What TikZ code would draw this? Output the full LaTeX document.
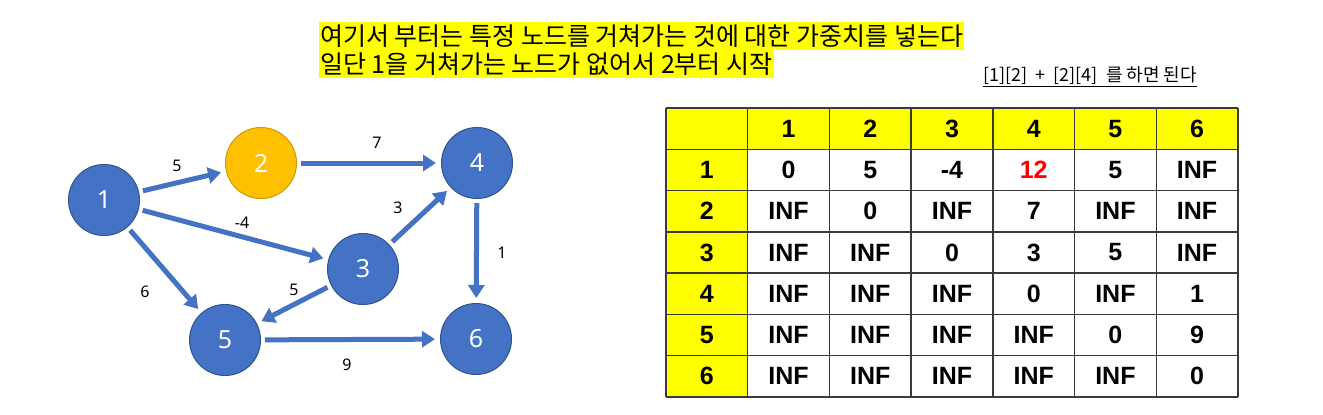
\documentclass[tikz,border=0pt]{standalone}
\usepackage{fontspec}
\setmainfont{Noto Sans}
\newfontfamily\krfont{Noto Sans CJK KR}
\newfontfamily\tblfont{Liberation Sans}
\usetikzlibrary{arrows.meta}
\definecolor{nodeblue}{HTML}{4472C4}
\definecolor{nodeline}{HTML}{2F528F}
\definecolor{nodeorange}{HTML}{FFC000}
\definecolor{hlyellow}{HTML}{FFFF00}
\definecolor{gridgray}{HTML}{3A3A3A}

\begin{document}
\begin{tikzpicture}[
  x=1pt, y=-1pt,
  vertex/.style={circle, fill=nodeblue, draw=nodeline, line width=1pt,
    minimum size=71pt, inner sep=0pt, text=white,
    font=\fontsize{25}{25}\selectfont},
  arr/.style={-{Triangle[length=13pt,width=16pt]}, line width=5pt,
    nodeblue, shorten <=4pt, shorten >=5pt},
  wlabel/.style={font=\fontsize{16}{16}\selectfont},
  note/.style={fill=hlyellow, inner xsep=1pt, inner ysep=0pt,
    minimum height=28pt, anchor=west,
    font=\krfont\fontsize{25}{28}\selectfont},
  cell/.style={font=\tblfont\bfseries\fontsize{25}{25}\selectfont, inner sep=0pt},
  tblline/.style={draw=gridgray, line width=1.5pt}
]
  \useasboundingbox[fill=white] (0,0) rectangle (1323,415);

  % Heading
  \node[note] (line1) at (319,36) {여기서 부터는 특정 노드를 거쳐가는 것에 대한 가중치를 넣는다};
  \node[note] (line2) at (319,64) {일단 1을 거쳐가는 노드가 없어서 2부터 시작};
  \node[anchor=west, inner sep=0pt, font=\krfont\fontsize{18}{18}\selectfont] (hint) at (983,77)
    {\underline{[1][2]\ \ +\ \ [2][4]\ \ 를 하면 된다}};

  % Graph
  \node[vertex] (n1) at (104,200) {1};
  \node[vertex, fill=nodeorange, draw=nodeorange!80!black] (n2) at (261,163) {2};
  \node[vertex] (n3) at (363,269) {3};
  \node[vertex] (n4) at (477,163) {4};
  \node[vertex] (n5) at (225,340) {5};
  \node[vertex] (n6) at (476,339) {6};

  \draw[arr] (n1) -- (n2);
  \draw[arr] (n2) -- (n4);
  \draw[arr] (n1) -- (n3);
  \draw[arr] (n1) -- (n5);
  \draw[arr] (n3) -- (n4);
  \draw[arr] (n4) -- (n6);
  \draw[arr] (n3) -- (n5);
  \draw[arr] (n5) -- (n6);

  % Weights
  \node[wlabel] (w12) at (177,166) {5};
  \node[wlabel] (w24) at (377,143) {7};
  \node[wlabel] (w13) at (242,223) {-4};
  \node[wlabel] (w34) at (398,208) {3};
  \node[wlabel] (w46) at (502,253) {1};
  \node[wlabel] (w15) at (145,292) {6};
  \node[wlabel] (w35) at (294,290) {5};
  \node[wlabel] (w56) at (347,365) {9};

  % Distance table
  \def\tx{666} \def\ty{108} \def\cw{81.71} \def\rh{41.29}
  \fill[hlyellow] (\tx,\ty) rectangle (\tx+7*\cw,\ty+\rh);
  \fill[hlyellow] (\tx,\ty) rectangle (\tx+\cw,\ty+7*\rh);
  \foreach \i in {0,...,7} {
    \draw[tblline] (\tx+\i*\cw,\ty) -- (\tx+\i*\cw,\ty+7*\rh);
    \draw[tblline] (\tx,\ty+\i*\rh) -- (\tx+7*\cw,\ty+\i*\rh);
  }
  \foreach \c in {1,...,6}
    \node[cell] (h\c) at (\tx+\c*\cw+0.5*\cw,\ty+0.5*\rh) {\c};
  \foreach \r in {1,...,6}
    \node[cell] (r\r) at (\tx+0.5*\cw,\ty+\r*\rh+0.5*\rh) {\r};
  \foreach \vals [count=\r] in {{0,5,-4,\textcolor{red}{12},5,INF},
      {INF,0,INF,7,INF,INF},{INF,INF,0,3,5,INF},{INF,INF,INF,0,INF,1},
      {INF,INF,INF,INF,0,9},{INF,INF,INF,INF,INF,0}} {
    \foreach \v [count=\c] in \vals
      \node[cell] (d\r-\c) at (\tx+\c*\cw+0.5*\cw,\ty+\r*\rh+0.5*\rh) {\v};
  }
\end{tikzpicture}
\end{document}
